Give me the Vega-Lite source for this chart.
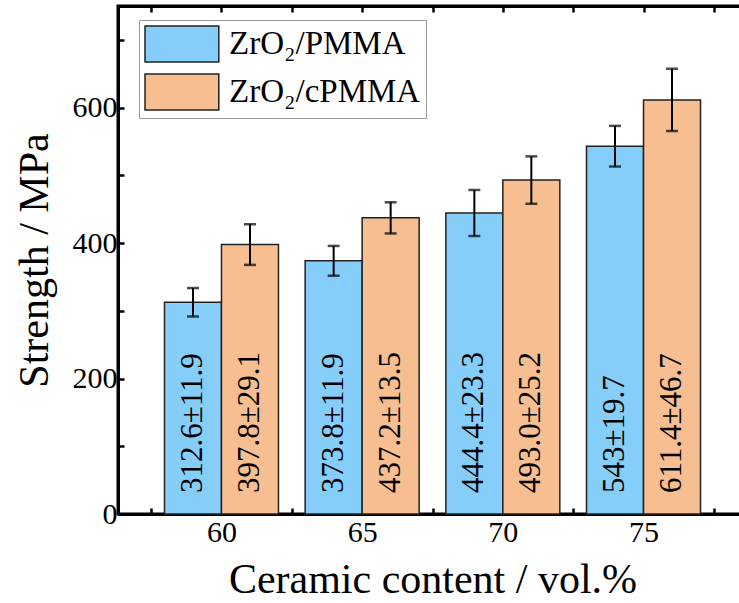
{
  "$schema": "https://vega.github.io/schema/vega-lite/v6.json",
  "autosize": "none",
  "padding": {"left": 118, "top": 6, "right": 0, "bottom": 89},
  "width": 629,
  "height": 508,
  "background": "white",
  "config": {
    "font": "Liberation Serif",
    "view": {"stroke": "black", "strokeWidth": 3},
    "text": {"font": "Liberation Serif", "fontSize": 31},
    "axis": {"grid": false, "labelFont": "Liberation Serif", "titleFont": "Liberation Serif", "titleFontWeight": "normal", "labelColor": "black", "titleColor": "black", "domainColor": "black", "tickColor": "black", "domainWidth": 3, "tickWidth": 2.5, "tickSize": -6, "labelFontSize": 30, "titleFontSize": 42},
    "axisX": {"labelPadding": 9, "titlePadding": 12},
    "axisY": {"labelPadding": 7, "titlePadding": 16}
  },
  "resolve": {"axis": {"x": "independent"}},
  "data": {
    "values": [
      {"content": 60, "series": "ZrO₂/PMMA", "strength": 312.6, "err": 21, "label": "312.6±11.9"},
      {"content": 60, "series": "ZrO₂/cPMMA", "strength": 397.8, "err": 30, "label": "397.8±29.1"},
      {"content": 65, "series": "ZrO₂/PMMA", "strength": 373.8, "err": 22, "label": "373.8±11.9"},
      {"content": 65, "series": "ZrO₂/cPMMA", "strength": 437.2, "err": 23, "label": "437.2±13.5"},
      {"content": 70, "series": "ZrO₂/PMMA", "strength": 444.4, "err": 34, "label": "444.4±23.3"},
      {"content": 70, "series": "ZrO₂/cPMMA", "strength": 493.0, "err": 35, "label": "493.0±25.2"},
      {"content": 75, "series": "ZrO₂/PMMA", "strength": 543, "err": 30, "label": "543±19.7"},
      {"content": 75, "series": "ZrO₂/cPMMA", "strength": 611.4, "err": 46, "label": "611.4±46.7"}
    ]
  },
  "encoding": {
    "x": {
      "field": "content", "type": "quantitative",
      "scale": {"domain": [56.5, 78.5], "nice": false, "zero": false},
      "axis": null
    },
    "y": {
      "field": "strength", "type": "quantitative",
      "scale": {"domain": [0, 750], "nice": false},
      "axis": {
        "values": [0, 100, 200, 300, 400, 500, 600, 700],
        "labelExpr": "datum.value % 200 == 0 ? datum.label : ''",
        "title": "Strength / MPa"
      }
    }
  },
  "layer": [
    {
      "transform": [{"filter": "datum.series == 'ZrO₂/PMMA'"}],
      "mark": {"type": "bar", "xOffset": -28.5, "width": 57, "stroke": "#222", "strokeWidth": 1.5},
      "encoding": {
        "x": {
          "field": "content", "type": "quantitative",
          "axis": {
            "orient": "bottom",
            "values": [57.5, 60, 62.5, 65, 67.5, 70, 72.5, 75, 77.5],
            "labelExpr": "datum.value % 5 == 0 ? datum.label : ''",
            "title": "Ceramic content / vol.%"
          }
        },
        "color": {
          "field": "series", "type": "nominal",
          "scale": {"domain": ["ZrO₂/PMMA", "ZrO₂/cPMMA"], "range": ["#86CEFA", "#F6BE91"]},
          "legend": {
            "orient": "none", "legendX": 21, "legendY": 14, "title": null,
            "strokeColor": "#999", "fillColor": "white", "padding": 5,
            "symbolType": "M-1,-1H3.1V1H-1Z", "symbolSize": 1296,
            "symbolStrokeColor": "#222", "symbolStrokeWidth": 1.5, "symbolOpacity": 1,
            "labelFont": "Liberation Serif", "labelFontSize": 33, "labelColor": "black",
            "labelOffset": 47, "rowPadding": 6, "labelLimit": 400
          }
        }
      }
    },
    {
      "transform": [{"filter": "datum.series == 'ZrO₂/cPMMA'"}],
      "mark": {"type": "bar", "xOffset": 28.5, "width": 57, "stroke": "#222", "strokeWidth": 1.5},
      "encoding": {
        "color": {"field": "series", "type": "nominal"}
      }
    },
    {
      "transform": [{"filter": "datum.series == 'ZrO₂/PMMA'"}],
      "mark": {"type": "errorbar", "rule": {"xOffset": -28.5, "strokeWidth": 2, "color": "black"}, "ticks": {"xOffset": -28.5, "size": 12, "thickness": 2.5, "color": "black"}},
      "encoding": {"yError": {"field": "err"}}
    },
    {
      "transform": [{"filter": "datum.series == 'ZrO₂/cPMMA'"}],
      "mark": {"type": "errorbar", "rule": {"xOffset": 28.5, "strokeWidth": 2, "color": "black"}, "ticks": {"xOffset": 28.5, "size": 12, "thickness": 2.5, "color": "black"}},
      "encoding": {"yError": {"field": "err"}}
    },
    {
      "transform": [{"filter": "datum.series == 'ZrO₂/PMMA'"}],
      "mark": {"type": "text", "xOffset": -28.5, "angle": 270, "align": "left", "baseline": "middle", "dx": 21, "fontSize": 31, "font": "Liberation Serif", "color": "black"},
      "encoding": {"y": {"datum": 0}, "text": {"field": "label"}}
    },
    {
      "transform": [{"filter": "datum.series == 'ZrO₂/cPMMA'"}],
      "mark": {"type": "text", "xOffset": 28.5, "angle": 270, "align": "left", "baseline": "middle", "dx": 21, "fontSize": 31, "font": "Liberation Serif", "color": "black"},
      "encoding": {
        "y": {"datum": 0},
        "text": {"field": "label"},
        "x": {"field": "content", "type": "quantitative", "axis": {"orient": "top", "values": [57.5, 60, 62.5, 65, 67.5, 70, 72.5, 75, 77.5], "labels": false, "title": null}}
      }
    }
  ]
}
